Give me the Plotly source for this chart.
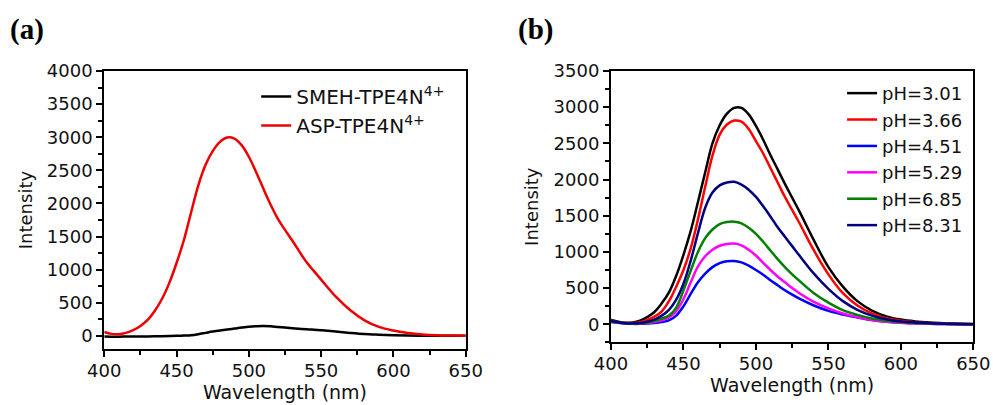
import plotly.graph_objects as go

# Emission wavelengths (nm)
wavelength = [400, 405, 410, 415, 420, 425, 430, 435, 440, 445, 450, 455, 460, 465,
              470, 475, 480, 485, 490, 495, 500, 505, 510, 515, 520, 525, 530, 540,
              550, 560, 570, 580, 590, 600, 610, 620, 630, 640, 650]

# Panel (a): fluorescence of the two probes
smeh_tpe4n = [-10, -12, -12, -11, -10, -9, -8, -7, -5, -3, 0, 5, 10, 25,
              45, 65, 80, 95, 110, 125, 138, 145, 148, 145, 135, 125, 115, 100,
              85, 65, 45, 28, 18, 10, 5, 3, 1, 0, 0]
asp_tpe4n = [60, 30, 25, 45, 85, 150, 240, 380, 560, 800, 1100, 1440, 1860, 2270,
             2580, 2790, 2930, 2995, 2978, 2880, 2705, 2475, 2225, 1985, 1770, 1600, 1440, 1110,
             850, 595, 390, 235, 135, 80, 45, 22, 10, 5, 2]

# Panel (b): ASP-TPE4N4+ at different pH values
ph_labels = ["pH=3.01", "pH=3.66", "pH=4.51", "pH=5.29", "pH=6.85", "pH=8.31"]
ph_301 = [60, 35, 22, 25, 50, 100, 170, 290, 440, 670, 960, 1290, 1690, 2100,
          2500, 2750, 2910, 2990, 2990, 2900, 2740, 2550, 2340, 2140, 1940, 1750, 1560, 1160,
          790, 520, 320, 190, 110, 65, 40, 25, 15, 8, 5]
ph_366 = [50, 30, 18, 18, 30, 60, 105, 180, 320, 520, 750, 1050, 1450, 1900,
          2330, 2620, 2760, 2815, 2800, 2700, 2530, 2360, 2160, 1960, 1760, 1580, 1400, 1020,
          690, 430, 260, 150, 85, 50, 30, 18, 10, 5, 3]
ph_451 = [30, 20, 10, 6, 6, 10, 18, 32, 55, 120, 250, 420, 580, 700,
          790, 845, 870, 875, 855, 810, 750, 685, 610, 540, 470, 410, 355, 260,
          185, 135, 95, 60, 35, 20, 12, 7, 4, 2, 1]
ph_529 = [35, 22, 12, 8, 10, 18, 32, 55, 95, 180, 350, 580, 800, 940,
          1030, 1085, 1110, 1115, 1090, 1030, 950, 850, 750, 660, 580, 500, 430, 310,
          220, 150, 100, 60, 35, 20, 12, 7, 4, 2, 1]
ph_685 = [40, 25, 14, 10, 14, 25, 45, 80, 120, 230, 470, 740, 1000, 1190,
          1310, 1385, 1412, 1418, 1395, 1335, 1250, 1140, 1020, 900, 790, 690, 600, 430,
          300, 195, 130, 80, 50, 30, 18, 10, 6, 3, 2]
ph_831 = [45, 28, 15, 12, 18, 35, 65, 120, 200, 340, 560, 880, 1260, 1610,
          1820, 1920, 1960, 1970, 1930, 1860, 1760, 1630, 1490, 1340, 1210, 1080, 950, 700,
          490, 320, 200, 120, 70, 40, 25, 15, 8, 4, 2]
ph_series = [ph_301, ph_366, ph_451, ph_529, ph_685, ph_831]
ph_colors = ["#000000", "#ff0000", "#0000ff", "#ff00ff", "#008000", "#000080"]

FONT = "DejaVu Sans"
TEXT_COLOR = "#111111"
LINE_W = 2.5

fig = go.Figure()

fig.add_trace(go.Scatter(x=wavelength, y=smeh_tpe4n, mode="lines", line_shape="spline",
                         name="SMEH-TPE4N<sup>4+</sup>", line=dict(color="#000000", width=LINE_W),
                         xaxis="x", yaxis="y", legend="legend"))
fig.add_trace(go.Scatter(x=wavelength, y=asp_tpe4n, mode="lines", line_shape="spline",
                         name="ASP-TPE4N<sup>4+</sup>", line=dict(color="#ee0000", width=LINE_W),
                         xaxis="x", yaxis="y", legend="legend"))

for label, values, color in zip(ph_labels, ph_series, ph_colors):
    fig.add_trace(go.Scatter(x=wavelength, y=values, mode="lines", line_shape="spline",
                             name=label, line=dict(color=color, width=LINE_W),
                             xaxis="x2", yaxis="y2", legend="legend2"))


def axis_style(**kw):
    base = dict(
        automargin=False,
        showline=True, linecolor="#000000", linewidth=2, mirror=True,
        ticks="outside", ticklen=6, tickwidth=1.5, tickcolor="#000000",
        minor=dict(ticks="outside", ticklen=4, tickwidth=1.5, tickcolor="#000000"),
        showgrid=False, zeroline=False,
        tickfont=dict(family=FONT, size=18, color=TEXT_COLOR),
    )
    base.update(kw)
    return base


x_title = dict(text="Wavelength (nm)", standoff=4,
               font=dict(family=FONT, size=19, color=TEXT_COLOR))

fig.update_layout(
    template="none",
    width=993, height=405,
    margin=dict(l=0, r=0, t=0, b=0),
    paper_bgcolor="white", plot_bgcolor="white",
    showlegend=True,
    xaxis=axis_style(domain=[0.105, 0.469], range=[400, 650], dtick=50,
                     minor_dtick=25, anchor="y", title=x_title, ticklabelstandoff=-2),
    yaxis=axis_style(domain=[0.138, 0.8247], range=[-200, 4000], dtick=500,
                     tick0=0, minor_dtick=250, anchor="x",
                     title=dict(text="Intensity", standoff=10,
                                font=dict(family=FONT, size=18, color=TEXT_COLOR))),
    xaxis2=axis_style(domain=[0.6153, 0.9802], range=[400, 650], dtick=50,
                      minor_dtick=25, anchor="y2", title=x_title, ticklabelstandoff=-2),
    yaxis2=axis_style(domain=[0.1546, 0.8247], range=[-250, 3500], dtick=500,
                      tick0=0, minor_dtick=250, anchor="x2",
                      title=dict(text="Intensity", standoff=10,
                                 font=dict(family=FONT, size=18, color=TEXT_COLOR))),
    legend=dict(x=0.258, y=0.81, xanchor="left", yanchor="top",
                bgcolor="rgba(0,0,0,0)", borderwidth=0,
                font=dict(family=FONT, size=20, color=TEXT_COLOR)),
    legend2=dict(x=0.848, y=0.815, xanchor="left", yanchor="top",
                 bgcolor="rgba(0,0,0,0)", borderwidth=0,
                 font=dict(family=FONT, size=18, color=TEXT_COLOR)),
    annotations=[
        dict(text="<b>(a)</b>", x=27 / 993, y=1 - 29 / 405, xref="paper", yref="paper",
             xanchor="center", yanchor="middle", showarrow=False,
             font=dict(family="Liberation Serif", size=29, color="#000000")),
        dict(text="<b>(b)</b>", x=535 / 993, y=1 - 29 / 405, xref="paper", yref="paper",
             xanchor="center", yanchor="middle", showarrow=False,
             font=dict(family="Liberation Serif", size=29, color="#000000")),
    ],
)

fig.write_html("out.html")
